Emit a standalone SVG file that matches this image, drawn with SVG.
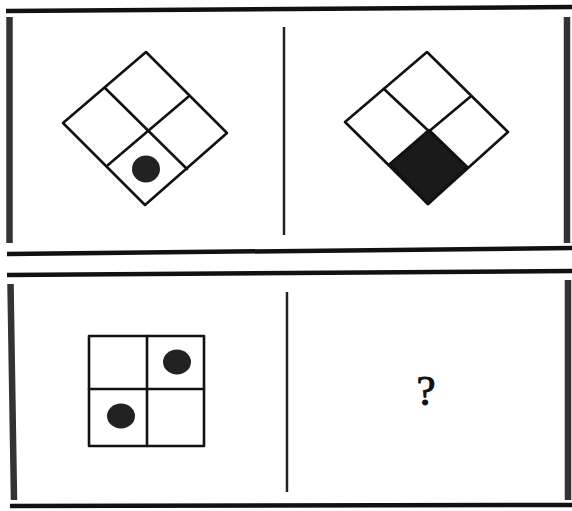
<svg xmlns="http://www.w3.org/2000/svg" width="572" height="511" viewBox="0 0 572 511">
<style>
.hb{stroke:#111;stroke-width:4.5;fill:none}
.vb{stroke:#333;stroke-width:6.5;fill:none}
.div{stroke:#222;stroke-width:2.5;fill:none}
.fig{stroke:#111;stroke-width:2.6;fill:none;stroke-linejoin:round;stroke-linecap:round}
.dot{fill:#222}
.q{font-family:"Liberation Serif","Times New Roman",serif;font-size:43px;fill:#111;stroke:#111;stroke-width:1;text-anchor:middle}
</style>
<rect width="572" height="511" fill="#fff"/>
<g id="frames">
<line class="hb" x1="6" y1="11" x2="572" y2="7"/>
<line class="hb" x1="7" y1="254" x2="572" y2="248"/>
<line class="vb" x1="9.5" y1="17" x2="9.5" y2="243"/>
<line class="vb" x1="567" y1="17" x2="567" y2="243"/>
<line class="hb" x1="7" y1="275" x2="572" y2="271"/>
<line class="hb" x1="10" y1="506" x2="572" y2="505"/>
<line class="vb" x1="10.5" y1="284" x2="14" y2="500"/>
<line class="vb" x1="568" y1="280" x2="568" y2="500"/>
<line class="div" x1="284" y1="27" x2="284" y2="235"/>
<line class="div" x1="287" y1="292" x2="287" y2="492"/>
</g>
<g id="diamond-dot">
<polygon class="fig" points="146,52 227,133 145,205 63,123"/>
<line class="fig" x1="105" y1="88" x2="187" y2="169"/>
<line class="fig" x1="188" y1="97" x2="108" y2="165"/>
<ellipse class="dot" cx="146" cy="169" rx="14" ry="13.5"/>
</g>
<g id="diamond-filled">
<polygon class="fig" points="427,52 508,132 428,204 345,122"/>
<polygon points="429,130 467,167 428,204 390,164" fill="#1a1a1a" stroke="#111" stroke-width="2.6" stroke-linejoin="round"/>
<line class="fig" x1="384" y1="89" x2="467" y2="167"/>
<line class="fig" x1="470" y1="97" x2="390" y2="164"/>
</g>
<g id="square-grid">
<rect class="fig" x="89" y="336" width="115" height="110"/>
<line class="fig" x1="147" y1="336" x2="147" y2="446"/>
<line class="fig" x1="89" y1="389" x2="204" y2="389"/>
<ellipse class="dot" cx="177" cy="362" rx="14" ry="12.5"/>
<ellipse class="dot" cx="121" cy="416" rx="14" ry="12.5"/>
</g>
<g id="unknown">
<text class="q" x="426" y="405">?</text>
</g>
</svg>
